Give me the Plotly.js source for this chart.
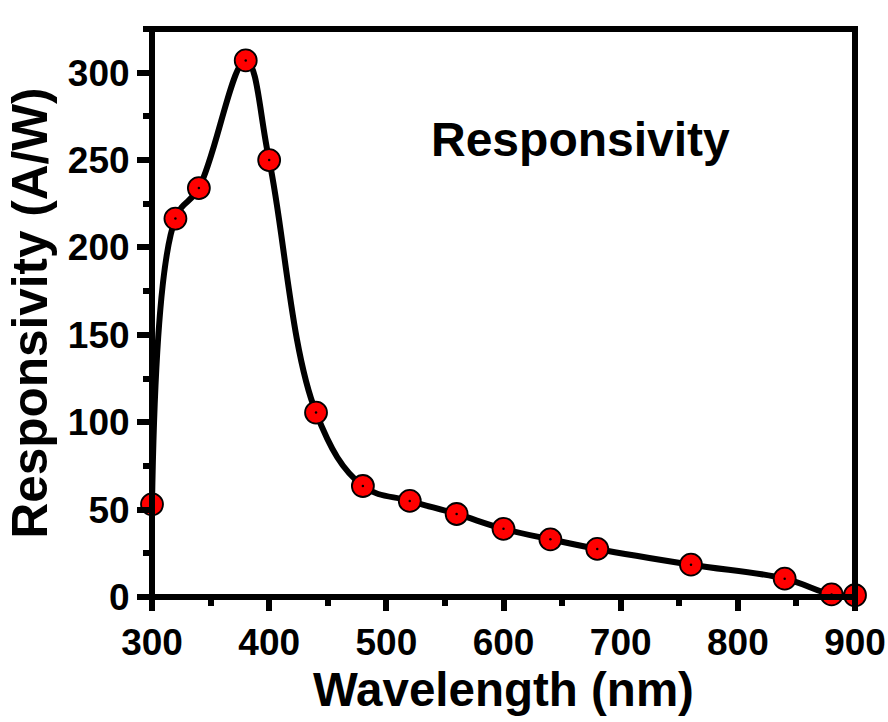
<!DOCTYPE html>
<html>
<head>
<meta charset="utf-8">
<script src="https://cdn.plot.ly/plotly-3.0.1.min.js"></script>
<style>html,body{margin:0;padding:0;background:#fff;}#chart{width:888px;height:722px;}</style>
</head>
<body>
<div id="chart"></div>
<script>
const wavelength = [300, 320, 340, 380, 400, 440, 480, 520, 560, 600, 640, 680, 760, 840, 880, 900];
const responsivity = [53, 216.5, 234, 307, 250, 105.5, 63.5, 55, 47.5, 39, 33, 27.5, 18.5, 10.5, 1.5, 1];
const xTicks = [300, 400, 500, 600, 700, 800, 900];
const yTicks = [0, 50, 100, 150, 200, 250, 300];

const FONT = '"Liberation Sans", Arial, sans-serif';

const traces = [
  {
    x: wavelength, y: responsivity, type: 'scatter', mode: 'lines+markers',
    line: {color: '#000', width: 6, shape: 'spline', smoothing: 1.1},
    marker: {color: '#ff0000', size: 22, line: {color: '#000', width: 1.8}},
    cliponaxis: false, hoverinfo: 'x+y'
  },
  {
    x: wavelength, y: responsivity, type: 'scatter', mode: 'markers',
    marker: {color: '#000', size: 2.5}, cliponaxis: false, hoverinfo: 'skip'
  }
];

const layout = {
  width: 888, height: 722,
  margin: {l: 152, r: 33, t: 29, b: 125},
  paper_bgcolor: '#fff', plot_bgcolor: '#fff',
  showlegend: false,
  font: {family: FONT, color: '#000'},
  xaxis: {
    range: [300, 900], tickvals: xTicks, ticktext: xTicks.map(String),
    showgrid: false, zeroline: false, showline: false,
    ticks: 'outside', ticklen: 13, tickwidth: 6, tickcolor: '#000',
    minor: {dtick: 50, tick0: 300, ticks: 'outside', ticklen: 8, tickwidth: 6, tickcolor: '#000', showgrid: false},
    tickfont: {family: FONT, size: 37, color: '#000', weight: 'bold'},
    title: {text: '<b>Wavelength (nm)</b>', font: {family: FONT, size: 47.5, color: '#000'}, standoff: 0},
    automargin: false
  },
  yaxis: {
    range: [0, 325], tickvals: yTicks, ticktext: yTicks.map(String),
    showgrid: false, zeroline: false, showline: false,
    ticks: 'outside', ticklen: 14, tickwidth: 6, tickcolor: '#000',
    minor: {dtick: 25, tick0: 0, ticks: 'outside', ticklen: 8, tickwidth: 6, tickcolor: '#000', showgrid: false},
    tickfont: {family: FONT, size: 37, color: '#000', weight: 'bold'},
    title: {text: '<b>Responsivity (A/W)</b>', font: {family: FONT, size: 49.5, color: '#000'}, standoff: 4},
    automargin: false
  },
  shapes: [
    {type: 'rect', xref: 'paper', yref: 'paper', x0: 0, x1: 1, y0: 0, y1: 1,
     line: {color: '#000', width: 6}, fillcolor: 'rgba(0,0,0,0)', layer: 'above'}
  ],
  annotations: [
    {text: '<b>Responsivity</b>', xref: 'paper', yref: 'paper', x: 0.61, y: 0.805,
     xanchor: 'center', yanchor: 'middle', showarrow: false,
     font: {family: FONT, size: 48, color: '#000'}}
  ]
};

Plotly.newPlot('chart', traces, layout, {displayModeBar: false, staticPlot: true});
</script>
</body>
</html>
